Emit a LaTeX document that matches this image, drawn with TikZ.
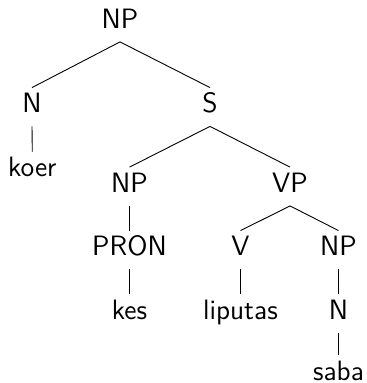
\documentclass[tikz,border=0pt]{standalone}
\usepackage{fontspec}
\begin{document}
\begin{tikzpicture}[x=0.5pt,y=-0.5pt,
  lab/.style={anchor=base,text height=10pt,text depth=4pt,inner xsep=2pt,inner ysep=2.5pt,
    font=\sffamily\fontsize{14}{16}\selectfont},
  edge/.style={draw=black,line width=0.45pt}]
\useasboundingbox (0,0) rectangle (367,383);
\node[lab] (np0) at (120,28.5) {NP};
\node[lab] (n1) at (32,113) {N};
\node[lab] (s) at (210,113) {S};
\node[lab] (koer) at (32.3,177) {koer};
\node[lab] (np2) at (129.5,192.5) {NP};
\node[lab] (vp) at (290,192.5) {VP};
\node[lab] (pron) at (129.5,256) {PRON};
\node[lab] (v) at (240.5,256) {V};
\node[lab] (np3) at (338.5,256) {NP};
\node[lab] (kes) at (129.5,319.5) {kes};
\node[lab] (liputas) at (240.5,319.5) {liputas};
\node[lab] (n3) at (338.5,319.5) {N};
\node[lab] (saba) at (338.5,380) {saba};
\draw[edge] (np0.south) -- (n1.north);
\draw[edge] (np0.south) -- (s.north);
\draw[edge] (n1.south) -- (koer.north);
\draw[edge] (s.south) -- (np2.north);
\draw[edge] (s.south) -- (vp.north);
\draw[edge] (np2.south) -- (pron.north);
\draw[edge] (pron.south) -- (kes.north);
\draw[edge] (vp.south) -- (v.north);
\draw[edge] (vp.south) -- (np3.north);
\draw[edge] (v.south) -- (liputas.north);
\draw[edge] (np3.south) -- (n3.north);
\draw[edge] (n3.south) -- (saba.north);
\end{tikzpicture}
\end{document}
